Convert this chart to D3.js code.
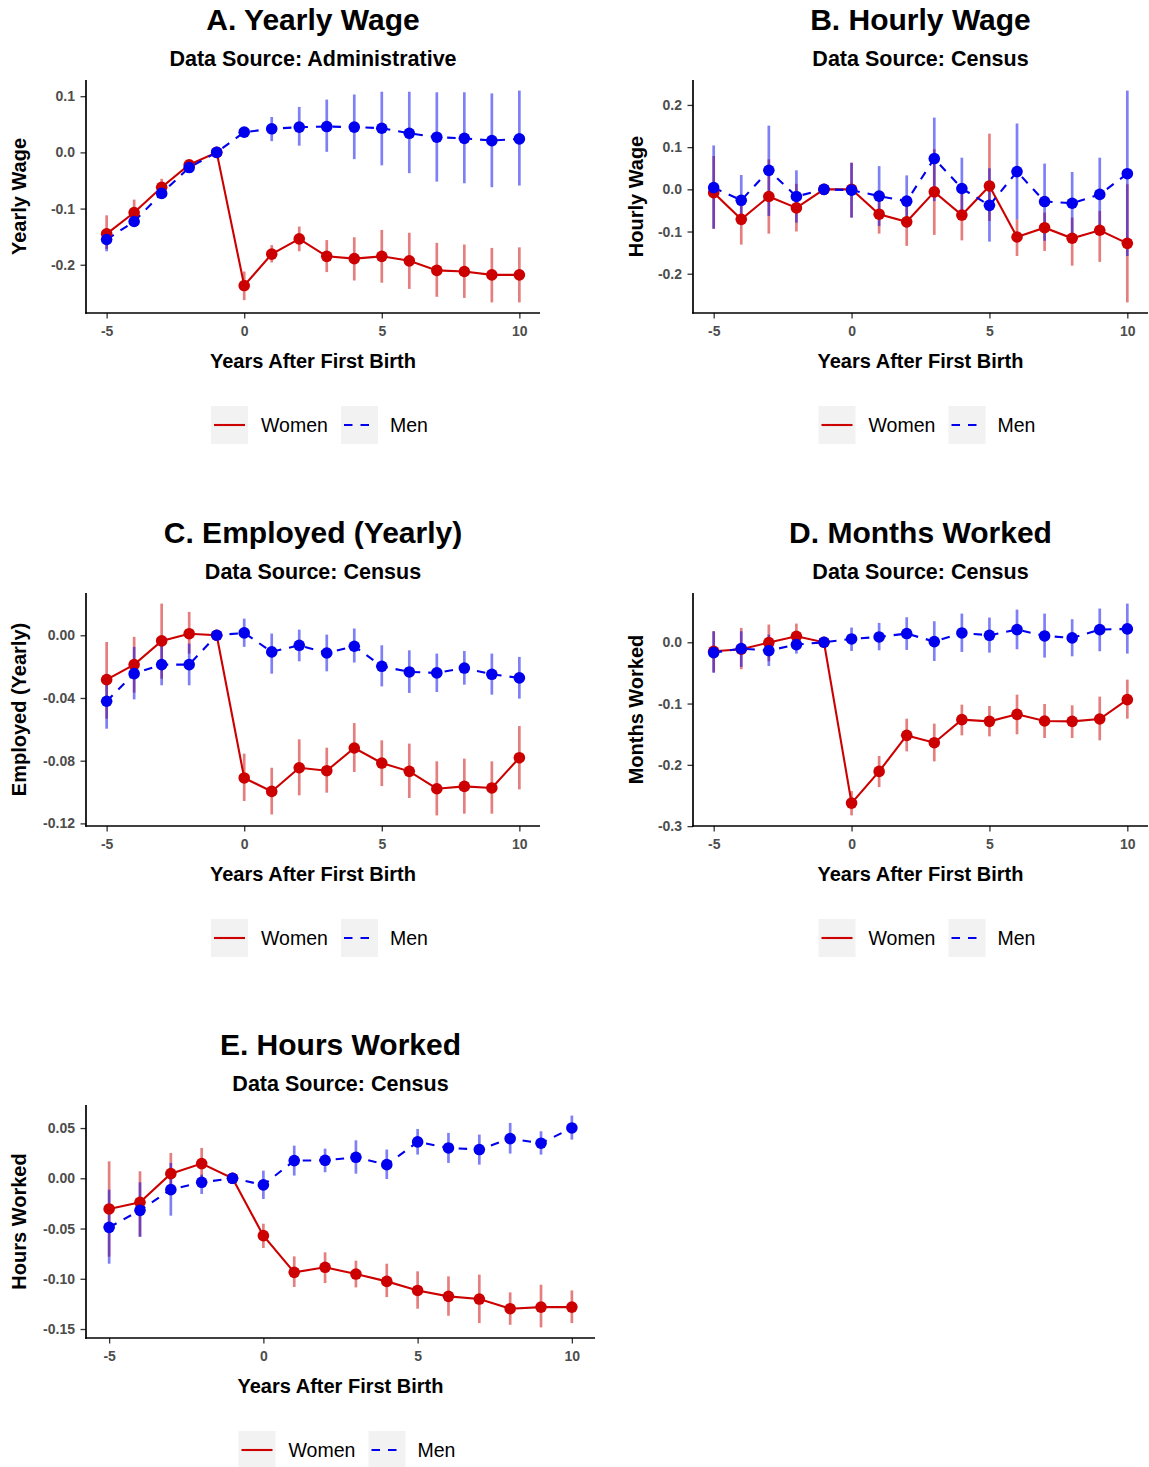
<!DOCTYPE html>
<html>
<head>
<meta charset="utf-8">
<script src="https://cdn.jsdelivr.net/npm/d3@7"></script>
<style>
  body { margin: 0; background: #ffffff; }
  svg text { font-family: "Liberation Sans", Arial, Helvetica, sans-serif; }
</style>
</head>
<body>
<svg id="chart" width="1149" height="1467"></svg>
<script>
// Event time relative to first birth
const years = [-5, -4, -3, -2, -1, 0, 1, 2, 3, 4, 5, 6, 7, 8, 9, 10];
const xTickLabels = ["-5", "0", "5", "10"];
const seriesNames = ["Women", "Men"];

// A. Yearly wage (administrative data)
const yearlyWageWomen   = [-0.145, -0.107, -0.062, -0.022, 0, -0.237, -0.181, -0.154, -0.185, -0.189, -0.185, -0.193, -0.210, -0.212, -0.218, -0.218];
const yearlyWageWomenLo = [-0.172, -0.123, -0.078, -0.030, 0, -0.263, -0.196, -0.176, -0.213, -0.228, -0.232, -0.243, -0.257, -0.259, -0.267, -0.267];
const yearlyWageWomenHi = [-0.112, -0.084, -0.047, -0.015, 0, -0.212, -0.165, -0.132, -0.156, -0.151, -0.138, -0.143, -0.161, -0.164, -0.170, -0.169];
const yearlyWageMen     = [-0.155, -0.123, -0.073, -0.027, 0, 0.036, 0.042, 0.045, 0.046, 0.045, 0.043, 0.034, 0.027, 0.025, 0.021, 0.024];
const yearlyWageMenLo   = [-0.176, -0.132, -0.082, -0.034, 0, 0.027, 0.020, 0.012, 0.001, -0.012, -0.023, -0.037, -0.052, -0.055, -0.062, -0.059];
const yearlyWageMenHi   = [-0.140, -0.111, -0.063, -0.019, 0, 0.044, 0.063, 0.081, 0.094, 0.103, 0.108, 0.108, 0.107, 0.107, 0.105, 0.110];
const yearlyWageTicks   = ["-0.2", "-0.1", "0.0", "0.1"];

// B. Hourly wage (census)
const hourlyWageWomen   = [-0.008, -0.071, -0.017, -0.044, 0, 0.000, -0.059, -0.077, -0.006, -0.061, 0.008, -0.113, -0.091, -0.116, -0.097, -0.128];
const hourlyWageWomenLo = [-0.094, -0.131, -0.105, -0.100, 0, -0.067, -0.105, -0.134, -0.108, -0.121, -0.075, -0.158, -0.146, -0.181, -0.172, -0.268];
const hourlyWageWomenHi = [0.079, -0.023, 0.071, 0.013, 0, 0.063, -0.028, -0.035, 0.095, -0.008, 0.132, -0.071, -0.055, -0.067, -0.051, 0.012];
const hourlyWageMen     = [0.004, -0.026, 0.045, -0.017, 0, -0.002, -0.016, -0.028, 0.073, 0.002, -0.038, 0.042, -0.029, -0.033, -0.012, 0.037];
const hourlyWageMenLo   = [-0.093, -0.085, -0.063, -0.079, 0, -0.067, -0.087, -0.091, -0.028, -0.067, -0.124, -0.071, -0.122, -0.118, -0.095, -0.158];
const hourlyWageMenHi   = [0.104, 0.034, 0.151, 0.045, 0, 0.063, 0.055, 0.033, 0.170, 0.075, 0.050, 0.156, 0.061, 0.041, 0.075, 0.234];
const hourlyWageTicks   = ["-0.2", "-0.1", "0.0", "0.1", "0.2"];

// C. Employed during the year (census)
const employedWomen   = [-0.0283, -0.0187, -0.0036, 0.0010, 0, -0.0910, -0.0996, -0.0845, -0.0864, -0.0719, -0.0815, -0.0868, -0.0979, -0.0964, -0.0974, -0.0781];
const employedWomenLo = [-0.0532, -0.0366, -0.0277, -0.0117, 0, -0.1057, -0.1143, -0.1021, -0.1004, -0.0872, -0.0962, -0.1038, -0.1149, -0.1138, -0.1138, -0.0983];
const employedWomenHi = [-0.0043, -0.0010, 0.0202, 0.0149, 0, -0.0755, -0.0845, -0.0664, -0.0717, -0.0560, -0.0670, -0.0691, -0.0804, -0.0787, -0.0804, -0.0579];
const employedMen     = [-0.0421, -0.0245, -0.0187, -0.0187, 0, 0.0015, -0.0106, -0.0064, -0.0113, -0.0070, -0.0198, -0.0234, -0.0240, -0.0209, -0.0249, -0.0272];
const employedMenLo   = [-0.0596, -0.0409, -0.0319, -0.0319, 0, -0.0074, -0.0245, -0.0166, -0.0230, -0.0174, -0.0326, -0.0368, -0.0362, -0.0315, -0.0379, -0.0404];
const employedMenHi   = [-0.0287, -0.0074, -0.0053, -0.0053, 0, 0.0106, 0.0011, 0.0036, 0.0004, 0.0043, -0.0064, -0.0096, -0.0117, -0.0100, -0.0117, -0.0138];
const employedTicks   = ["-0.12", "-0.08", "-0.04", "0.00"];

// D. Months worked (census)
const monthsWomen   = [-0.0147, -0.0114, -0.0005, 0.0098, 0, -0.2624, -0.2107, -0.1519, -0.1639, -0.1263, -0.1290, -0.1176, -0.1285, -0.1290, -0.1252, -0.0936];
const monthsWomenLo = [-0.0484, -0.0441, -0.0310, -0.0076, 0, -0.2825, -0.2363, -0.1780, -0.1943, -0.1519, -0.1535, -0.1502, -0.1562, -0.1562, -0.1600, -0.1247];
const monthsWomenHi = [0.0180, 0.0234, 0.0289, 0.0305, 0, -0.2428, -0.1856, -0.1247, -0.1328, -0.1018, -0.1040, -0.0855, -0.1007, -0.1029, -0.0887, -0.0610];
const monthsMen     = [-0.0169, -0.0103, -0.0136, -0.0038, 0, 0.0054, 0.0087, 0.0142, 0.0011, 0.0152, 0.0114, 0.0207, 0.0103, 0.0071, 0.0207, 0.0218];
const monthsMenLo   = [-0.0501, -0.0403, -0.0387, -0.0185, 0, -0.0142, -0.0131, -0.0125, -0.0305, -0.0158, -0.0169, -0.0114, -0.0250, -0.0229, -0.0147, -0.0185];
const monthsMenHi   = [0.0180, 0.0180, 0.0125, 0.0114, 0, 0.0240, 0.0316, 0.0408, 0.0343, 0.0468, 0.0403, 0.0533, 0.0468, 0.0376, 0.0550, 0.0631];
const monthsTicks   = ["-0.3", "-0.2", "-0.1", "0.0"];

// E. Hours worked (census)
const hoursWomen   = [-0.0305, -0.0239, 0.0046, 0.0146, 0, -0.0571, -0.0936, -0.0886, -0.0953, -0.1026, -0.1116, -0.1175, -0.1202, -0.1298, -0.1282, -0.1282];
const hoursWomenLo = [-0.0780, -0.0578, -0.0146, -0.0013, 0, -0.0694, -0.1082, -0.1042, -0.1086, -0.1182, -0.1298, -0.1368, -0.1441, -0.1458, -0.1484, -0.1441];
const hoursWomenHi = [0.0169, 0.0070, 0.0252, 0.0302, 0, -0.0452, -0.0777, -0.0737, -0.0820, -0.0850, -0.0926, -0.0976, -0.0959, -0.1135, -0.1059, -0.1116];
const hoursMen     = [-0.0488, -0.0319, -0.0113, -0.0040, 0, -0.0066, 0.0176, 0.0179, 0.0209, 0.0136, 0.0362, 0.0302, 0.0286, 0.0395, 0.0349, 0.0501];
const hoursMenLo   = [-0.0850, -0.0584, -0.0372, -0.0156, 0, -0.0206, 0.0027, 0.0060, 0.0046, -0.0007, 0.0236, 0.0153, 0.0136, 0.0246, 0.0236, 0.0385];
const hoursMenHi   = [-0.0113, -0.0040, 0.0153, 0.0037, 0, 0.0076, 0.0325, 0.0295, 0.0378, 0.0286, 0.0491, 0.0452, 0.0435, 0.0551, 0.0468, 0.0624];
const hoursTicks   = ["-0.15", "-0.10", "-0.05", "0.00", "0.05"];

// Panel layout and text
const panels = [
  { title: "A. Yearly Wage", source: "Data Source: Administrative", ylab: "Yearly Wage",
    women: [yearlyWageWomen, yearlyWageWomenLo, yearlyWageWomenHi],
    men: [yearlyWageMen, yearlyWageMenLo, yearlyWageMenHi], ticks: yearlyWageTicks,
    left: 86, top: 80, width: 454, height: 233, ytitleX: 25.5 },
  { title: "B. Hourly Wage", source: "Data Source: Census", ylab: "Hourly Wage",
    women: [hourlyWageWomen, hourlyWageWomenLo, hourlyWageWomenHi],
    men: [hourlyWageMen, hourlyWageMenLo, hourlyWageMenHi], ticks: hourlyWageTicks,
    left: 693, top: 80, width: 455, height: 233, ytitleX: 643 },
  { title: "C. Employed (Yearly)", source: "Data Source: Census", ylab: "Employed (Yearly)",
    women: [employedWomen, employedWomenLo, employedWomenHi],
    men: [employedMen, employedMenLo, employedMenHi], ticks: employedTicks,
    left: 86, top: 593, width: 454, height: 233, ytitleX: 25.5 },
  { title: "D. Months Worked", source: "Data Source: Census", ylab: "Months Worked",
    women: [monthsWomen, monthsWomenLo, monthsWomenHi],
    men: [monthsMen, monthsMenLo, monthsMenHi], ticks: monthsTicks,
    left: 693, top: 593, width: 455, height: 233, ytitleX: 643 },
  { title: "E. Hours Worked", source: "Data Source: Census", ylab: "Hours Worked",
    women: [hoursWomen, hoursWomenLo, hoursWomenHi],
    men: [hoursMen, hoursMenLo, hoursMenHi], ticks: hoursTicks,
    left: 86, top: 1105, width: 509, height: 233, ytitleX: 25.5 }
];

const colors = { Women: "#cc0000", Men: "#0000ee" };
const dashes = { Women: null, Men: "8.5,8" };

const svg = d3.select("#chart");

function rows(triple) {
  return years.map((yr, i) => ({ year: yr, est: triple[0][i], lo: triple[1][i], hi: triple[2][i] }));
}

function drawPanel(p) {
  const w = p.width, h = p.height, cx = p.left + w / 2;
  const g = svg.append("g").attr("transform", `translate(${p.left},${p.top})`);

  // ggplot-style 5% expansion on both axes
  const xr = d3.extent(years), xpad = 0.05 * (xr[1] - xr[0]);
  const x = d3.scaleLinear().domain([xr[0] - xpad, xr[1] + xpad]).range([0, w]);
  const yr = d3.extent([...p.women[1], ...p.women[2], ...p.men[1], ...p.men[2]]);
  const ypad = 0.05 * (yr[1] - yr[0]);
  const y = d3.scaleLinear().domain([yr[0] - ypad, yr[1] + ypad]).range([h, 0]);

  const series = [
    { name: "Women", data: rows(p.women) },
    { name: "Men", data: rows(p.men) }
  ];

  // confidence intervals
  series.forEach(s => {
    g.append("g").selectAll("line").data(s.data).join("line")
      .attr("x1", d => x(d.year)).attr("x2", d => x(d.year))
      .attr("y1", d => y(d.lo)).attr("y2", d => y(d.hi))
      .attr("stroke", colors[s.name]).attr("stroke-opacity", 0.5)
      .attr("stroke-width", 2.7);
  });

  // trajectories
  const line = d3.line().x(d => x(d.year)).y(d => y(d.est));
  series.forEach(s => {
    g.append("path").datum(s.data).attr("d", line)
      .attr("fill", "none").attr("stroke", colors[s.name])
      .attr("stroke-width", 2.1)
      .attr("stroke-dasharray", dashes[s.name]);
  });

  // point estimates
  series.forEach(s => {
    g.append("g").selectAll("circle").data(s.data).join("circle")
      .attr("cx", d => x(d.year)).attr("cy", d => y(d.est))
      .attr("r", 5.8).attr("fill", colors[s.name]);
  });

  // axes
  const yAxis = d3.axisLeft(y).tickValues(p.ticks.map(Number))
    .tickFormat((v, i) => p.ticks[i]).tickSize(5.5).tickPadding(5.5);
  const xAxis = d3.axisBottom(x).tickValues(xTickLabels.map(Number))
    .tickFormat((v, i) => xTickLabels[i]).tickSize(5.5).tickPadding(8);

  const ya = g.append("g").call(yAxis);
  const xa = g.append("g").attr("transform", `translate(0,${h})`).call(xAxis);
  [ya, xa].forEach(a => {
    a.select(".domain").remove();
    a.selectAll(".tick line").attr("stroke", "#333333").attr("stroke-width", 1.3);
    a.selectAll(".tick text").attr("fill", "#4d4d4d")
      .style("font-size", "14px").style("font-weight", "bold");
  });
  g.append("line").attr("x1", 0).attr("x2", 0).attr("y1", 0).attr("y2", h + 0.85)
    .attr("stroke", "#000").attr("stroke-width", 1.7);
  g.append("line").attr("x1", -0.85).attr("x2", w).attr("y1", h).attr("y2", h)
    .attr("stroke", "#000").attr("stroke-width", 1.7);

  // titles
  svg.append("text").attr("x", cx).attr("y", p.top - 50.5).attr("text-anchor", "middle")
    .style("font-size", "30px").style("font-weight", "bold").attr("fill", "#000")
    .text(p.title);
  svg.append("text").attr("x", cx).attr("y", p.top - 14.5).attr("text-anchor", "middle")
    .style("font-size", "21.5px").style("font-weight", "bold").attr("fill", "#000")
    .text(p.source);
  svg.append("text").attr("x", cx).attr("y", p.top + h + 55).attr("text-anchor", "middle")
    .style("font-size", "20px").style("font-weight", "bold").attr("fill", "#000")
    .text("Years After First Birth");
  svg.append("text")
    .attr("transform", `translate(${p.ytitleX},${p.top + h / 2}) rotate(-90)`)
    .attr("text-anchor", "middle")
    .style("font-size", "20px").style("font-weight", "bold").attr("fill", "#000")
    .text(p.ylab);

  // legend
  const ly = p.top + h + 93;
  const leg = svg.append("g");
  const keyX = { Women: cx - 102, Men: cx + 28 };
  const labX = { Women: cx - 52, Men: cx + 77 };
  seriesNames.forEach(n => {
    leg.append("rect").attr("x", keyX[n]).attr("y", ly).attr("width", 37).attr("height", 38)
      .attr("fill", "#f2f2f2");
    leg.append("line").attr("x1", keyX[n] + 3).attr("x2", keyX[n] + 34)
      .attr("y1", ly + 19).attr("y2", ly + 19)
      .attr("stroke", colors[n]).attr("stroke-width", 2.1)
      .attr("stroke-dasharray", dashes[n]);
    leg.append("text").attr("x", labX[n]).attr("y", ly + 19).attr("dy", "0.35em")
      .style("font-size", "19.5px").attr("fill", "#000").text(n);
  });
}

panels.forEach(drawPanel);
</script>
</body>
</html>
